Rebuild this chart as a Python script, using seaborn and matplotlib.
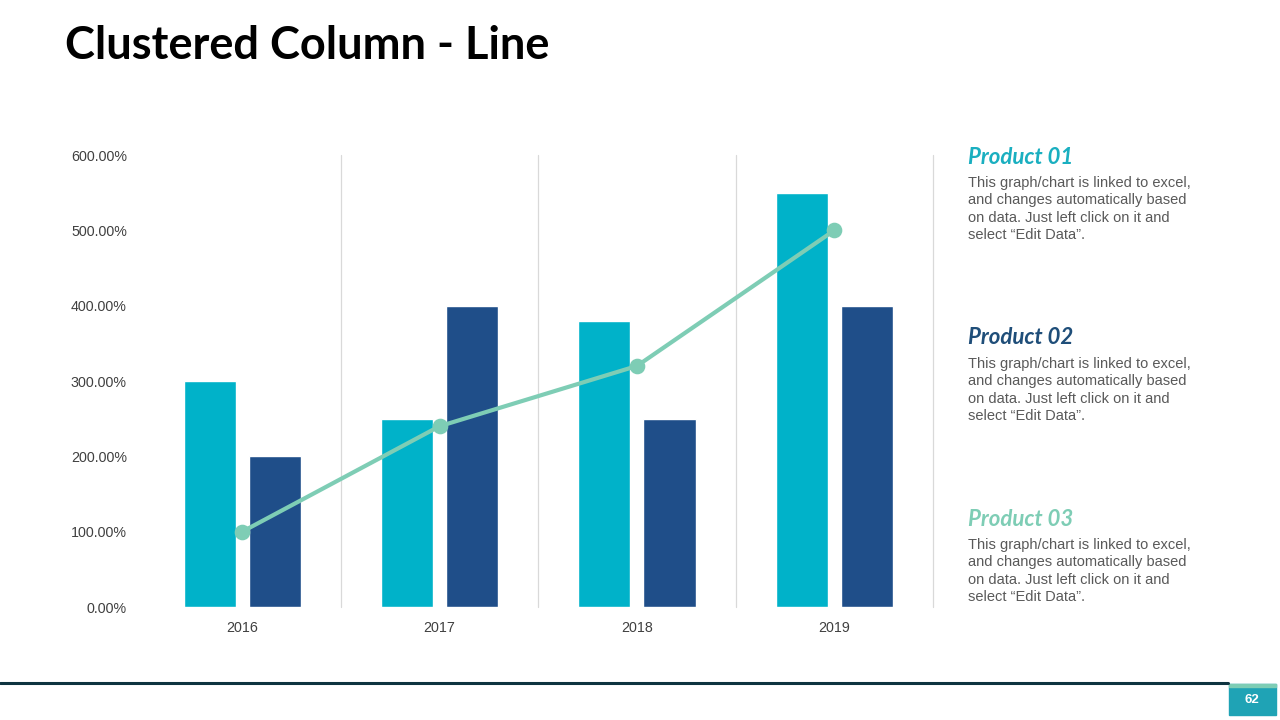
import pandas as pd
import matplotlib.pyplot as plt
from matplotlib.patches import Rectangle
import seaborn as sns

# Valores
anos = ["2016", "2017", "2018", "2019"]
produto_01 = [300, 250, 380, 550]
produto_02 = [200, 400, 250, 400]
produto_03 = [100, 240, 320, 500]
ticks_y = [0, 100, 200, 300, 400, 500, 600]

cores = {"Product 01": "#00B2C9", "Product 02": "#1F4E89"}
cor_linha = "#7ECDB5"
cor_texto = "#595959"

descricao = ("This graph/chart is linked to excel,\n"
             "and changes automatically based\n"
             "on data. Just left click on it and\n"
             "select \u201cEdit Data\u201d.")

df = pd.DataFrame({"ano": anos, "Product 01": produto_01, "Product 02": produto_02})
df_melt = df.melt(id_vars="ano", var_name="produto", value_name="valor")

sns.set_style("white")
plt.rcParams["font.family"] = ["Liberation Sans", "DejaVu Sans"]

fig = plt.figure(figsize=(12.8, 7.2), dpi=100)
ax = fig.add_axes([0.1121, 0.1569, 0.6168, 0.6278])

sns.barplot(data=df_melt, x="ano", y="valor", hue="produto", palette=cores,
            width=0.66, gap=0.2, saturation=1, legend=False, ax=ax)
sns.pointplot(x=anos, y=produto_03, color=cor_linha, linewidth=3,
              markersize=9, ax=ax)

ax.set_xlim(-0.5, 3.5)
ax.set_ylim(0, 600)
ax.set_yticks(ticks_y)
ax.set_yticklabels([f"{v:.2f}%" for v in ticks_y], fontsize=10.3, color="#404040")
ax.tick_params(axis="x", labelsize=10.3, labelcolor="#404040", length=0, pad=10)
ax.tick_params(axis="y", length=0, pad=12)
ax.set_xlabel("")
ax.set_ylabel("")
for s in ax.spines.values():
    s.set_visible(False)
for x in [0.5, 1.5, 2.5, 3.5]:
    ax.axvline(x, color="#D9D9D9", linewidth=0.9, zorder=0, clip_on=False)

# Título
fig.text(65 / 1280, 1 - 46 / 720, "Clustered Column - Line", fontsize=32.5,
         fontweight="bold", family="Lato", va="center", ha="left", color="black")

# Textos laterais
cabecalhos = [("Product 01", "#1AAFC0", 157), ("Product 02", "#1F4E79", 338),
              ("Product 03", "#7ECDB5", 519)]
for nome, cor, y in cabecalhos:
    fig.text(968 / 1280, 1 - y / 720, nome, fontsize=16, fontweight="bold",
             fontstyle="italic", family="Lato", color=cor, va="center", ha="left")
    fig.text(968 / 1280, 1 - (y + 19) / 720, descricao, fontsize=10.5,
             color=cor_texto, va="top", ha="left", linespacing=1.3)

# Rodapé
fig.add_artist(plt.Line2D([0, 1228 / 1280], [1 - 683 / 720] * 2, color="#0E3440",
                          linewidth=2.2, transform=fig.transFigure))
fig.add_artist(Rectangle((1229 / 1280, 1 - 715 / 720), 47 / 1280, 31 / 720,
                         color="#1FA3B5", transform=fig.transFigure))
fig.add_artist(Rectangle((1229 / 1280, 1 - 687 / 720), 47 / 1280, 3 / 720,
                         color="#7ECDB5", transform=fig.transFigure))
fig.text(1252 / 1280, 1 - 700 / 720, "62", fontsize=9.5, fontweight="bold",
         color="white", ha="center", va="center")

fig.savefig("out.png", dpi=100)
